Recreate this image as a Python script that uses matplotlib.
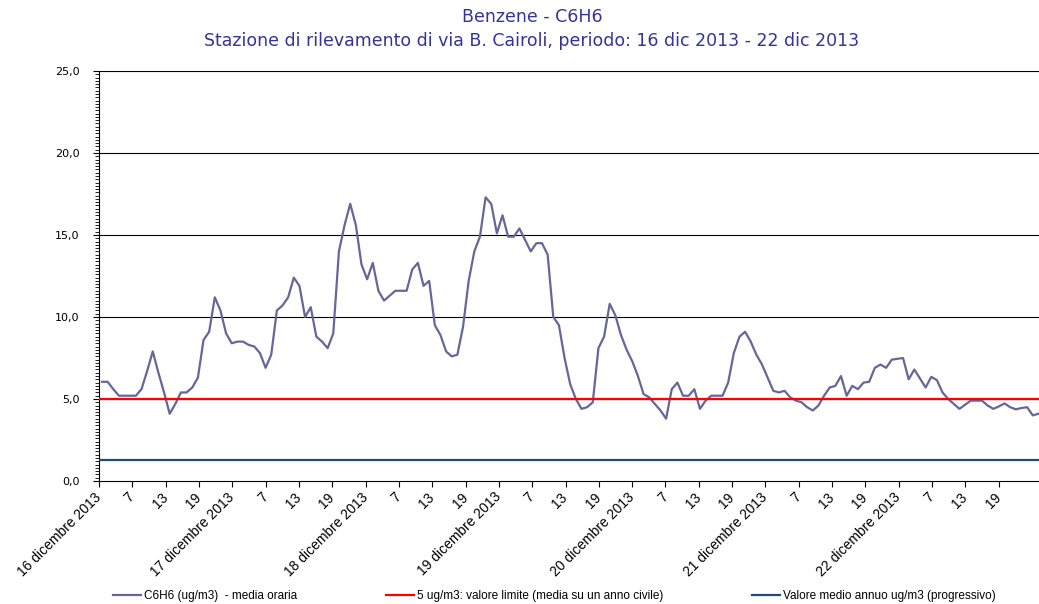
import numpy as np
import matplotlib.pyplot as plt
from matplotlib.ticker import FuncFormatter, MultipleLocator

# Valori orari C6H6 (ug/m3), 16-22 dicembre 2013
c6h6 = [
    6.05, 6.05, 5.6, 5.2, 5.2, 5.2, 5.2, 5.6, 6.7, 7.9,
    6.6, 5.4, 4.1, 4.7, 5.4, 5.4, 5.7, 6.3, 8.6, 9.1,
    11.2, 10.4, 9.0, 8.4, 8.5, 8.5, 8.3, 8.2, 7.8, 6.9,
    7.7, 10.4, 10.7, 11.2, 12.4, 11.9, 10.0, 10.6, 8.8, 8.5,
    8.1, 9.0, 14.0, 15.6, 16.9, 15.6, 13.2, 12.3, 13.3, 11.6,
    11.0, 11.3, 11.6, 11.6, 11.6, 12.9, 13.3, 11.9, 12.2, 9.5,
    8.9, 7.9, 7.6, 7.7, 9.4, 12.2, 14.0, 14.9, 17.3, 16.9,
    15.1, 16.2, 14.9, 14.9, 15.4, 14.7, 14.0, 14.5, 14.5, 13.8,
    10.0, 9.5, 7.5, 5.9, 5.0, 4.4, 4.5, 4.8, 8.1, 8.8,
    10.8, 10.1, 8.9, 8.0, 7.3, 6.4, 5.3, 5.1, 4.7, 4.3,
    3.8, 5.6, 6.0, 5.2, 5.2, 5.6, 4.4, 4.9, 5.2, 5.2,
    5.2, 6.0, 7.8, 8.8, 9.1, 8.5, 7.7, 7.1, 6.3, 5.5,
    5.4, 5.5, 5.1, 4.9, 4.8, 4.5, 4.3, 4.6, 5.2, 5.7,
    5.8, 6.4, 5.2, 5.8, 5.6, 6.0, 6.05, 6.9, 7.1, 6.9,
    7.4, 7.45, 7.5, 6.2, 6.8, 6.25, 5.7, 6.35, 6.15, 5.4,
    5.0, 4.7, 4.4, 4.65, 4.9, 4.9, 4.9, 4.6, 4.4, 4.55,
    4.73, 4.5, 4.37, 4.45, 4.5, 4.0, 4.1,
]
valore_limite = 5.0
media_annua = 1.3

giorni = ["16 dicembre 2013", "17 dicembre 2013", "18 dicembre 2013",
          "19 dicembre 2013", "20 dicembre 2013", "21 dicembre 2013",
          "22 dicembre 2013"]
ore = ["7", "13", "19"]

titolo = "Benzene - C6H6\nStazione di rilevamento di via B. Cairoli, periodo: 16 dic 2013 - 22 dic 2013"
legenda = ["C6H6 (ug/m3)  - media oraria",
           "5 ug/m3: valore limite (media su un anno civile)",
           "Valore medio annuo ug/m3 (progressivo)"]


def main():
    fig = plt.figure(figsize=(10.39, 6.04), dpi=100)
    ax = fig.add_axes([99 / 1039, 123 / 604, 940 / 1039, 410 / 604])

    x = np.arange(len(c6h6))
    ax.plot(x, c6h6, color="#666699", lw=1.6, label=legenda[0], zorder=4)
    ax.axhline(valore_limite, color="#ff0000", lw=1.6, label=legenda[1], zorder=5)
    ax.axhline(media_annua, color="#1f4a7c", lw=1.6, label=legenda[2], zorder=5)

    ax.set_ylim(0, 25)
    ax.set_xlim(-0.53, 166.1)

    # griglia orizzontale
    for v in [5, 10, 15, 20, 25]:
        ax.axhline(v, color="black", lw=0.8, zorder=1)

    ax.yaxis.set_major_locator(MultipleLocator(5))
    ax.yaxis.set_minor_locator(MultipleLocator(0.2))
    ax.yaxis.set_major_formatter(FuncFormatter(lambda v, p: f"{v:.1f}".replace(".", ",")))
    ax.tick_params(axis="y", which="major", length=4, width=0.8, labelsize=8, pad=10)
    ax.tick_params(axis="y", which="minor", length=3, width=0.6)

    # tacche ogni 6 ore (l'asse del grafico originale e' leggermente compresso)
    labels = []
    for g in giorni:
        labels.append(g)
        labels.extend(ore)
    ticks = np.arange(len(labels)) * 6 * 0.9845 - 0.53
    ax.set_xticks(ticks)
    ax.set_xticklabels(labels, rotation=45, ha="right", va="center",
                       rotation_mode="anchor", fontsize=10,
                       family="Liberation Sans")
    ax.tick_params(axis="x", length=4, width=0.8, pad=6)

    for s in ["top", "right"]:
        ax.spines[s].set_visible(False)
    ax.spines["left"].set_linewidth(0.8)
    ax.spines["bottom"].set_linewidth(0.8)

    fig.text(532 / 1039, 1 - 29 / 604, titolo, ha="center", va="center",
             color="#333399", fontsize=12.5, linespacing=1.4)

    h, l = ax.get_legend_handles_labels()
    fig.legend(h, l, loc="lower left", bbox_to_anchor=(113 / 1039, 0.003),
               ncol=3, frameon=False, handlelength=2.4,
               handletextpad=0.2, columnspacing=7.55, borderpad=0,
               borderaxespad=0, prop={"family": "Liberation Sans", "size": 8.5})

    fig.savefig("out.png", dpi=100)


if __name__ == "__main__":
    main()
